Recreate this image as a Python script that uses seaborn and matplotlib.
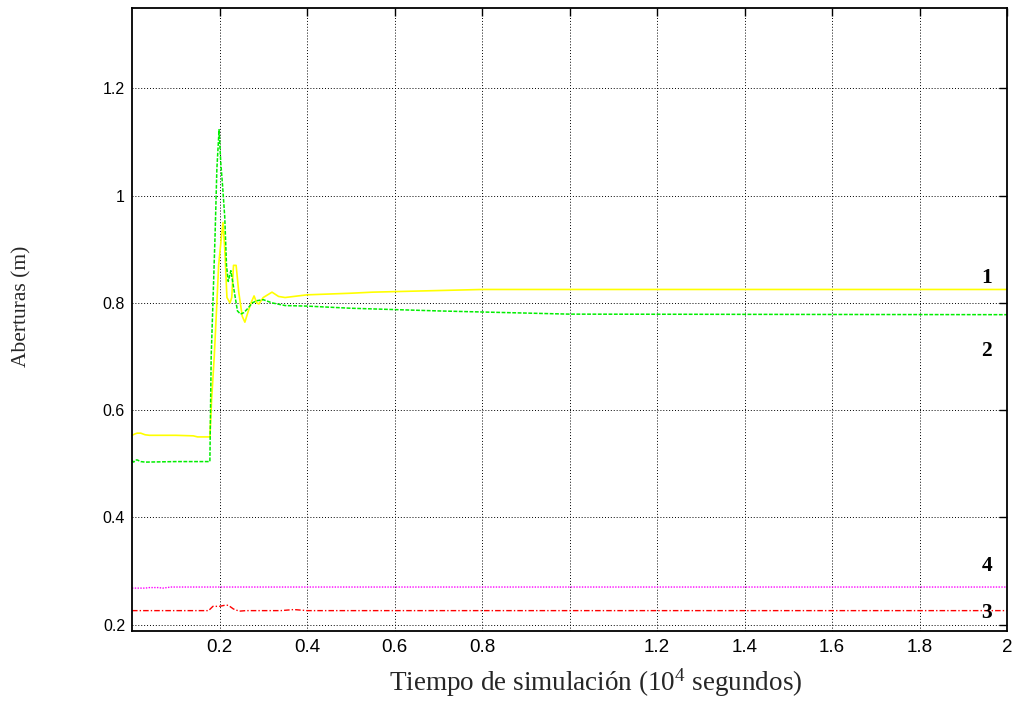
import numpy as np
import pandas as pd
import matplotlib
matplotlib.use("Agg")
import matplotlib.pyplot as plt
import seaborn as sns

# --- data (time in 10^4 s, openings in m) ---
t1 = [0.0, 0.008, 0.012, 0.02, 0.03, 0.04, 0.10, 0.14, 0.15, 0.178, 0.182, 0.188, 0.194, 0.198, 0.204, 0.208,
      0.212, 0.217, 0.224, 0.228, 0.232, 0.238, 0.244, 0.252, 0.258, 0.264, 0.272, 0.279, 0.285, 0.29, 0.30,
      0.31, 0.32, 0.335, 0.35, 0.40, 0.50, 0.55, 0.80, 1.2, 2.0]
y1 = [0.553, 0.556, 0.557, 0.557, 0.554, 0.553, 0.553, 0.552, 0.550, 0.550, 0.62, 0.70, 0.80, 0.87, 0.92, 0.95,
      0.90, 0.81, 0.80, 0.81, 0.87, 0.87, 0.82, 0.775, 0.764, 0.78, 0.80, 0.813, 0.80, 0.798, 0.81, 0.815, 0.82,
      0.812, 0.81, 0.815, 0.818, 0.82, 0.825, 0.825, 0.825]

t2 = [0.0, 0.004, 0.008, 0.012, 0.02, 0.03, 0.10, 0.17, 0.178, 0.181, 0.185, 0.190, 0.194, 0.199, 0.203, 0.207,
      0.212, 0.216, 0.220, 0.226, 0.232, 0.236, 0.241, 0.248, 0.256, 0.265, 0.275, 0.285, 0.30, 0.32, 0.35,
      0.40, 0.50, 0.70, 1.0, 2.0]
y2 = [0.506, 0.503, 0.507, 0.507, 0.504, 0.503, 0.504, 0.504, 0.504, 0.70, 0.80, 0.93, 1.05, 1.123, 1.06, 1.019,
      0.96, 0.87, 0.84, 0.86, 0.83, 0.81, 0.785, 0.779, 0.782, 0.79, 0.80, 0.804, 0.806, 0.80, 0.795, 0.794,
      0.79, 0.785, 0.779, 0.778]

t3 = [0.0, 0.175, 0.185, 0.200, 0.212, 0.220, 0.232, 0.245, 0.26, 0.34, 0.37, 0.40, 2.0]
y3 = [0.226, 0.226, 0.234, 0.234, 0.236, 0.236, 0.229, 0.225, 0.226, 0.226, 0.228, 0.226, 0.226]

t4 = [0.0, 0.03, 0.04, 0.06, 0.07, 0.09, 2.0]
y4 = [0.268, 0.268, 0.269, 0.269, 0.268, 0.270, 0.270]

curve_names = ["1", "2", "3", "4"]
curve_colors = ["#ffff00", "#00ee00", "#ff0000", "#ff00ff"]
curve_label_y = [0.847, 0.710, 0.221, 0.310]
curve_label_x = 1.954

xticks = [0.2, 0.4, 0.6, 0.8, 1.0, 1.2, 1.4, 1.6, 1.8, 2.0]
xtick_labels = ["0.2", "0.4", "0.6", "0.8", "", "1.2", "1.4", "1.6", "1.8", "2"]
yticks = [0.2, 0.4, 0.6, 0.8, 1.0, 1.2]
ytick_labels = ["0.2", "0.4", "0.6", "0.8", "1", "1.2"]

frames = []
for name, t, y in zip(curve_names, [t1, t2, t3, t4], [y1, y2, y3, y4]):
    frames.append(pd.DataFrame({"t": t, "y": y, "curve": name}))
df = pd.concat(frames, ignore_index=True)

sns.set_theme(style="white")
plt.rcParams["font.family"] = ["Liberation Sans", "DejaVu Sans"]
plt.rcParams["mathtext.fontset"] = "custom"
plt.rcParams["mathtext.rm"] = "Liberation Serif"
plt.rcParams["mathtext.it"] = "Liberation Serif:italic"

fig = plt.figure(figsize=(10.14, 7.02), dpi=100)
ax = fig.add_axes([132 / 1014, 1 - 631 / 702, (1007 - 132) / 1014, (631 - 8) / 702])

styles = {"1": "-", "2": (0, (2.5, 1)), "3": (0, (4, 1.5, 1, 1.5)), "4": (0, (1, 1))}
widths = {"1": 1.2, "2": 1.1, "3": 1.0, "4": 1.0}
for name, color in zip(curve_names, curve_colors):
    sub = df[df["curve"] == name]
    sns.lineplot(data=sub, x="t", y="y", ax=ax, color=color, linewidth=widths[name],
                 linestyle=styles[name], estimator=None, sort=False)

ax.set_xlim(0, 2)
ax.set_ylim(0.188, 1.35)
ax.set_xticks(xticks)
ax.set_yticks(yticks)
ax.set_xticklabels(xtick_labels, fontsize=13.5, family="Liberation Sans")
ax.set_yticklabels(ytick_labels, fontsize=11.5, family="Liberation Sans")

ax.grid(True, color="black", linestyle=(0, (1, 2)), linewidth=0.7)
ax.tick_params(axis="both", direction="in", length=6, width=1, top=True, right=True,
               colors="black", labelcolor="black")
ax.tick_params(axis="x", pad=6)
ax.tick_params(axis="y", pad=5)
for s in ax.spines.values():
    s.set_color("black")
    s.set_linewidth(1.3)

ax.set_xlabel("Tiempo de simulación (10$^4$ segundos)", family="Liberation Serif", fontsize=19.5)
ax.set_ylabel("Aberturas (m)", family="Liberation Serif", fontsize=15.5)
ax.xaxis.set_label_coords((596 - 132) / 875, -(683 - 631) / 623)
ax.yaxis.set_label_coords(-(132 - 22) / 875, (631 - 306) / 623)
ax.xaxis.label.set_va("center")
ax.yaxis.label.set_va("center")

for name, yy in zip(curve_names, curve_label_y):
    ax.text(curve_label_x, yy, name, family="Liberation Serif", fontweight="bold", fontsize=15.5,
            ha="center", va="center", color="black")

if ax.get_legend() is not None:
    ax.get_legend().remove()

fig.savefig("out.png", dpi=100)
